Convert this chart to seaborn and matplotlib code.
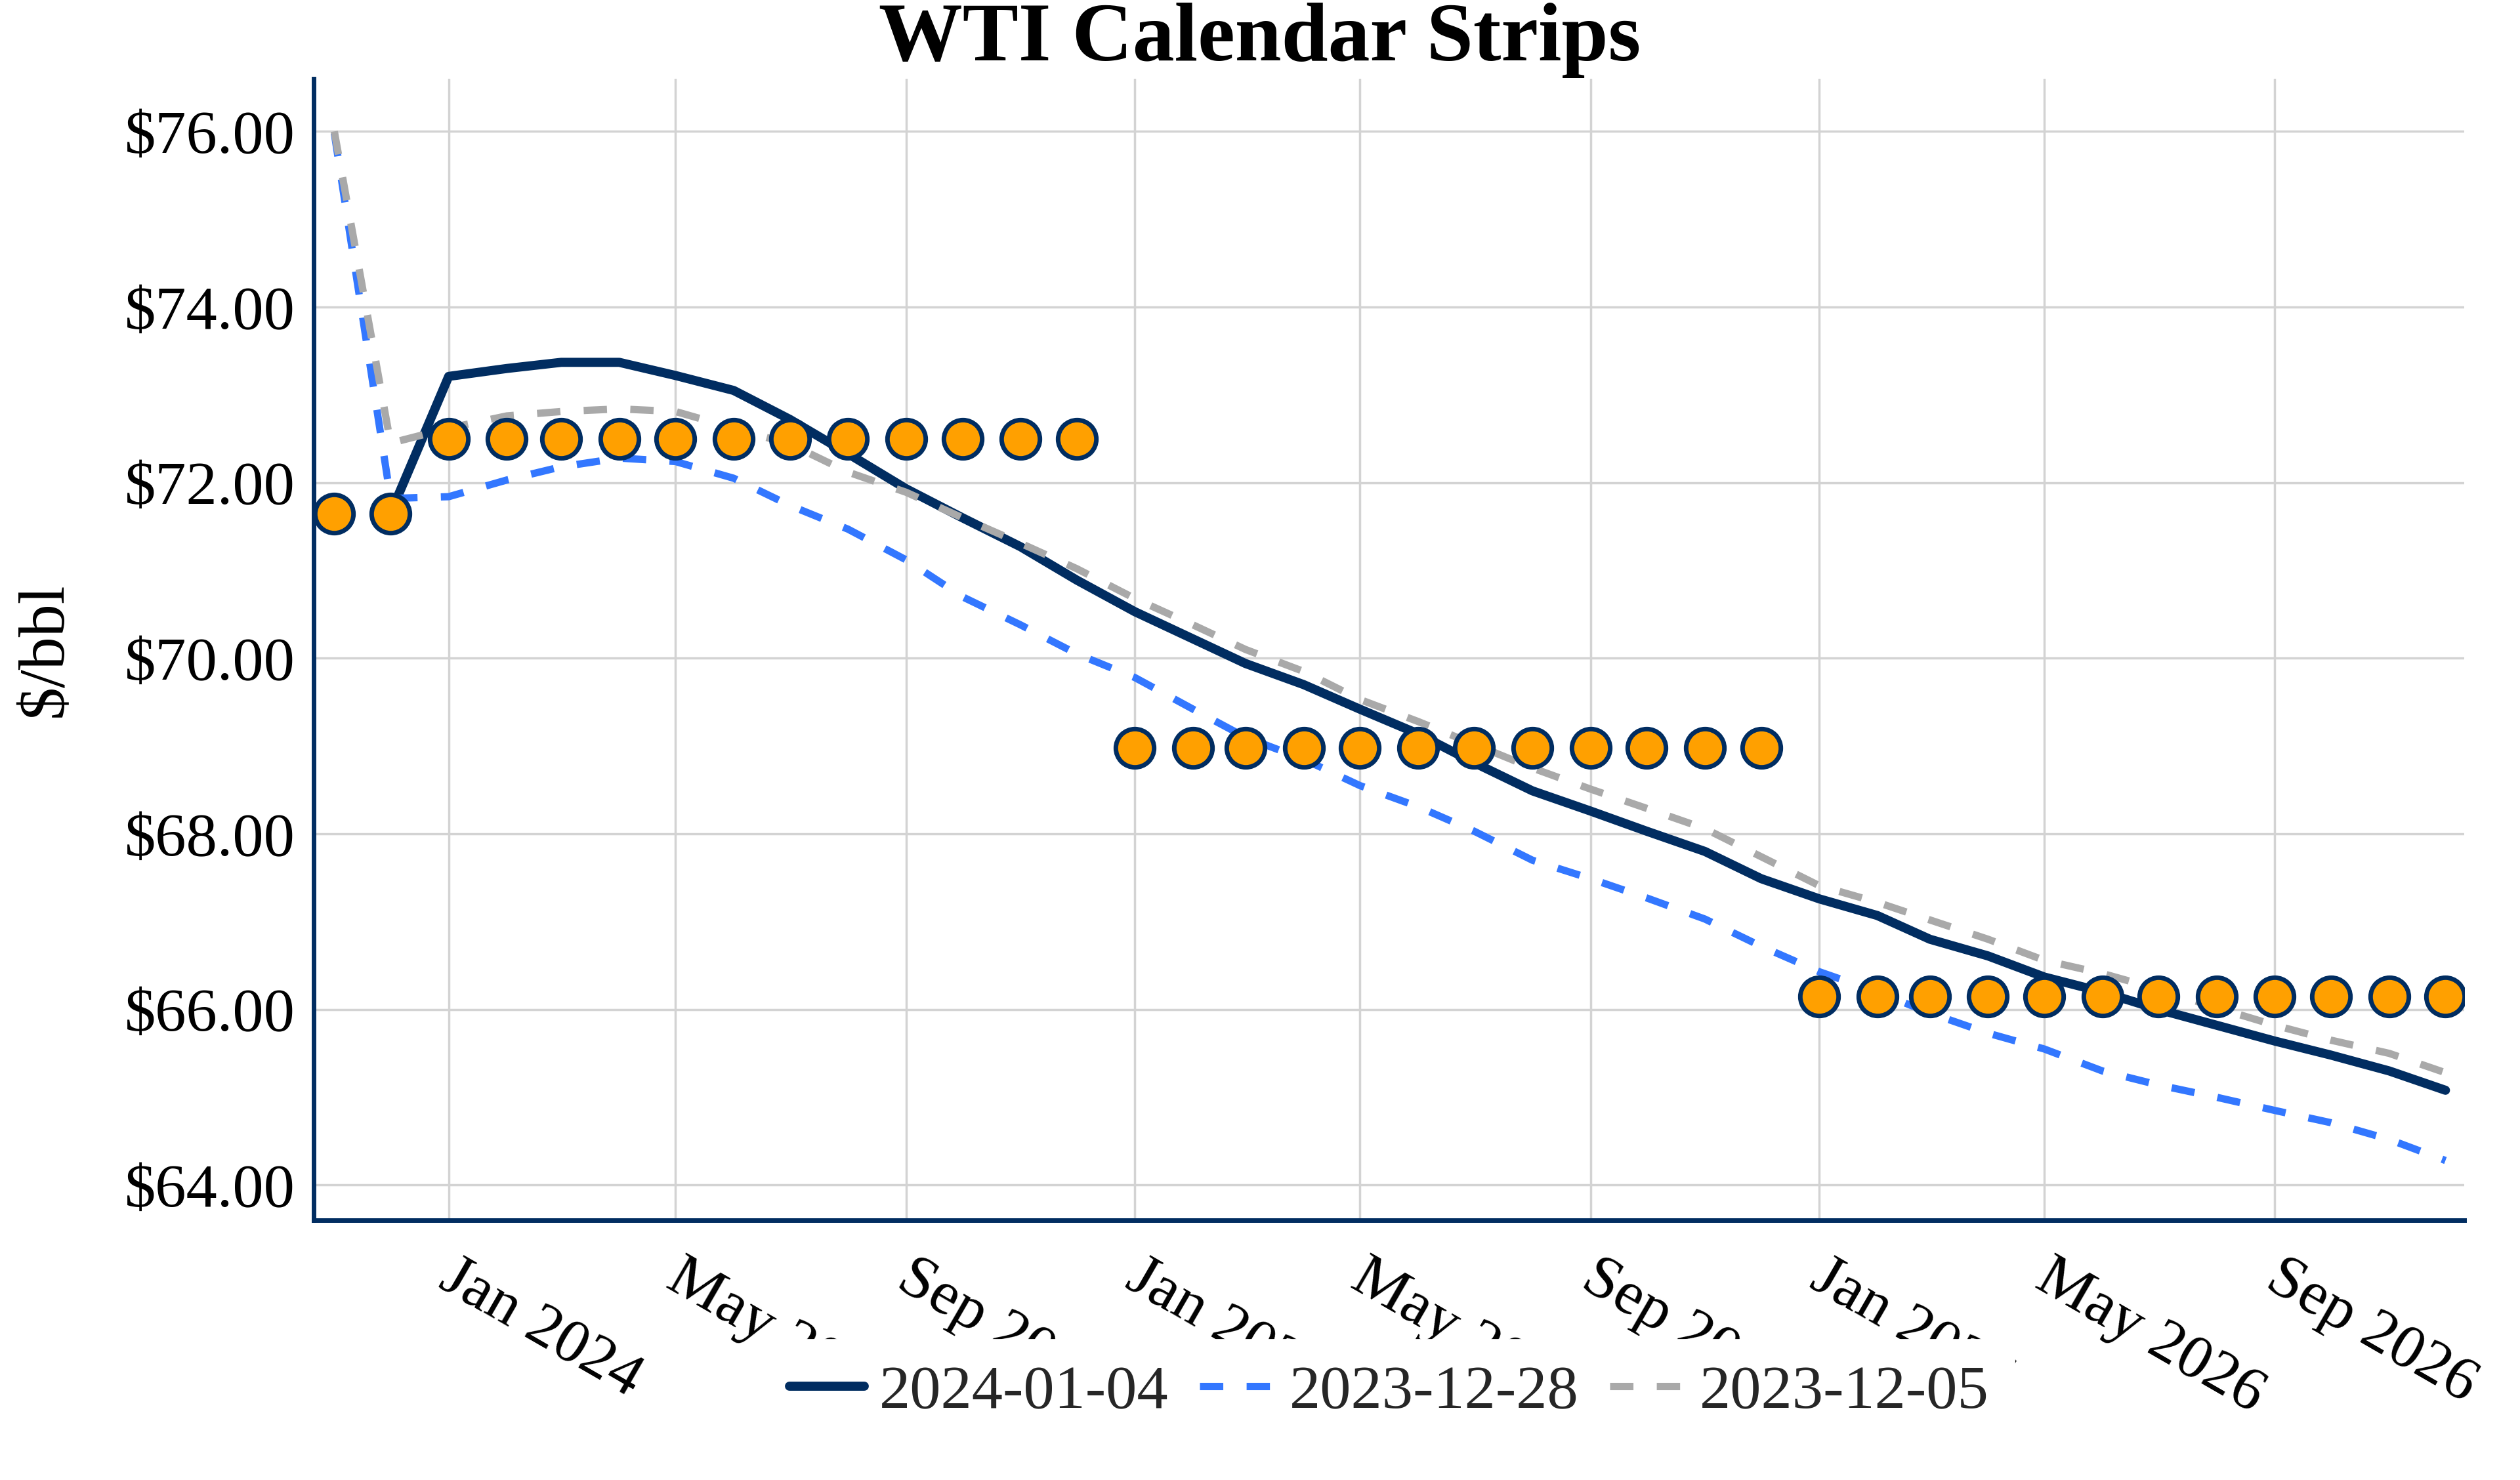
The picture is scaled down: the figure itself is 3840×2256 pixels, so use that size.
import numpy as np
import pandas as pd
import matplotlib
matplotlib.use("Agg")
import matplotlib.pyplot as plt
import matplotlib.dates as mdates
from matplotlib.ticker import FuncFormatter, MultipleLocator
from matplotlib.transforms import ScaledTranslation
import seaborn as sns

# ---------------- data ----------------
months = pd.date_range("2023-11-01", periods=38, freq="MS")

curve_2024_01_04 = [np.nan, 71.65,
                    73.21, 73.30, 73.37, 73.37, 73.22, 73.05, 72.72, 72.33, 71.93, 71.60, 71.27, 70.89,
                    70.53, 70.22, 69.94, 69.70, 69.42, 69.14, 68.81, 68.49, 68.26, 68.03, 67.80, 67.49,
                    67.26, 67.07, 66.80, 66.61, 66.37, 66.20, 66.00, 65.82, 65.64, 65.48, 65.30, 65.08]

curve_2023_12_28 = [75.98, 71.82,
                    71.84, 72.03, 72.18, 72.28, 72.24, 72.05, 71.74, 71.47, 71.12, 70.70, 70.38, 70.05,
                    69.78, 69.42, 69.10, 68.85, 68.55, 68.31, 68.03, 67.70, 67.49, 67.27, 67.03, 66.72,
                    66.43, 66.20, 65.96, 65.73, 65.55, 65.30, 65.14, 65.00, 64.85, 64.71, 64.52, 64.28]

curve_2023_12_05 = [76.00, 72.45,
                    72.62, 72.76, 72.81, 72.84, 72.81, 72.62, 72.44, 72.12, 71.89, 71.60, 71.31, 71.02,
                    70.68, 70.38, 70.10, 69.85, 69.53, 69.28, 69.02, 68.75, 68.51, 68.29, 68.06, 67.74,
                    67.41, 67.22, 67.02, 66.80, 66.56, 66.41, 66.23, 66.02, 65.82, 65.65, 65.50, 65.28]

strip_years = [2023, 2024, 2025, 2026]
strip_values = [71.65, 72.50, 68.98, 66.15]

series_labels = ["2024-01-04", "2023-12-28", "2023-12-05"]
series_values = [curve_2024_01_04, curve_2023_12_28, curve_2023_12_05]

# ---------------- style ----------------
NAVY = "#012D61"
BLUE = "#3377FF"
GRAY = "#A9A9A9"
ORANGE = "#FFA000"
GRID = "#D3D3D3"

sns.set_theme(style="white")
plt.rcParams["font.family"] = ["Liberation Serif", "DejaVu Serif"]

W, H, DPI = 3840, 2256, 200
fig = plt.figure(figsize=(W / DPI, H / DPI), dpi=DPI)
ax = fig.add_axes([478 / W, 1 - 1860 / H, (3755 - 478) / W, (1860 - 120) / H])

styles = {
    "2024-01-04": dict(color=NAVY, lw=5.0, ls="-"),
    "2023-12-28": dict(color=BLUE, lw=4.0, ls=(0, (3.2, 3.2))),
    "2023-12-05": dict(color=GRAY, lw=4.0, ls=(0, (3.2, 3.2))),
}

for lab, vals in zip(series_labels, series_values):
    df = pd.DataFrame({"month": months, "price": vals}).dropna()
    st = styles[lab]
    sns.lineplot(data=df, x="month", y="price", ax=ax, estimator=None,
                 color=st["color"], linewidth=st["lw"], linestyle=st["ls"],
                 label=lab, zorder=2)

strip_map = dict(zip(strip_years, strip_values))
strip_df = pd.DataFrame({"month": months,
                         "strip": [strip_map[m.year] for m in months]})
sns.scatterplot(data=strip_df, x="month", y="strip", ax=ax, s=21.0 ** 2,
                color=ORANGE, edgecolor=NAVY, linewidth=2.5, zorder=4,
                legend=False)

# ---------------- axes ----------------
ax.set_xlim(pd.Timestamp("2023-10-21"), pd.Timestamp("2026-12-11"))
ax.set_ylim(63.6, 76.6)
ax.yaxis.set_major_locator(MultipleLocator(2))
ax.yaxis.set_major_formatter(FuncFormatter(lambda v, p: f"${v:.2f}"))
ax.xaxis.set_major_locator(mdates.MonthLocator(bymonth=(1, 5, 9)))
ax.xaxis.set_major_formatter(mdates.DateFormatter("%b %Y"))

ax.grid(True, color=GRID, linewidth=1.25)
ax.set_axisbelow(True)
for s in ["top", "right"]:
    ax.spines[s].set_visible(False)
for s in ["left", "bottom"]:
    ax.spines[s].set_color(NAVY)
    ax.spines[s].set_linewidth(2.5)

ax.tick_params(axis="y", length=0, pad=10, labelsize=34, labelcolor="black")
ax.tick_params(axis="x", length=0, pad=16, labelsize=34, labelcolor="black")
ax.set_xlabel("")
ax.set_ylabel("$/bbl", fontsize=36, color="black")
ax.yaxis.label.set_va("center")
ax.yaxis.set_label_coords((70 - 478) / (3755 - 478), 0.5)

if ax.get_legend() is not None:
    ax.get_legend().remove()

fig.canvas.draw()
offset = ScaledTranslation(15 / DPI, 0, fig.dpi_scale_trans)
for lbl in ax.get_xticklabels():
    lbl.set_rotation(-30)
    lbl.set_ha("left")
    lbl.set_va("top")
    lbl.set_rotation_mode("anchor")
    lbl.set_transform(lbl.get_transform() + offset)

fig.text(0.5, 1 - 92 / H, "WTI Calendar Strips", ha="center", va="baseline",
         fontsize=46, fontweight="bold", color="black")

handles, labels = ax.get_legend_handles_labels()
fig.legend(handles, labels, loc="center",
           bbox_to_anchor=(2117 / W, 1 - 2123 / H), ncol=3, fontsize=34,
           frameon=True, framealpha=1, facecolor="white", edgecolor="white",
           fancybox=False, borderpad=0.4, handlelength=1.2,
           handletextpad=0.25, columnspacing=0.5)

fig.savefig("out.png", dpi=DPI, facecolor="white")
